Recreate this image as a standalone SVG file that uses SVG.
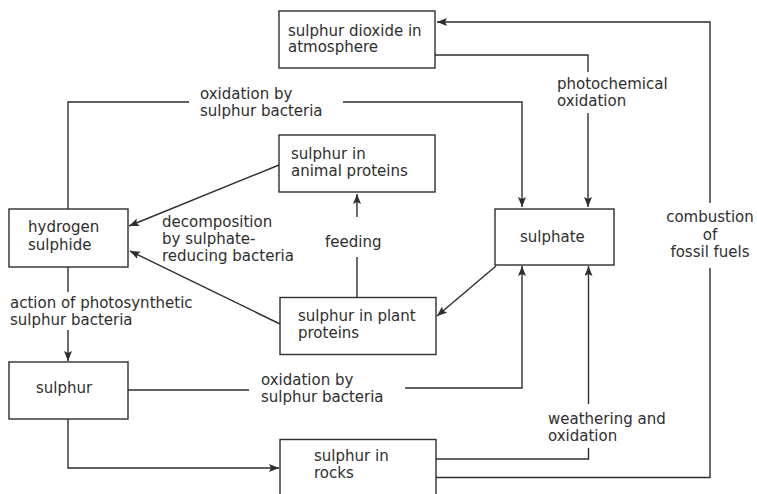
<svg xmlns="http://www.w3.org/2000/svg" width="757" height="494" viewBox="0 0 757 494">
<style>
.box{fill:#fff;stroke:#2e2e2e;stroke-width:1.4}
.ln{fill:none;stroke:#2e2e2e;stroke-width:1.4}
.ar{marker-end:url(#ah)}
text{font-family:"DejaVu Sans","Liberation Sans",sans-serif;font-size:15px;fill:#2e2e2e}
.c{text-anchor:middle}
</style>
<defs>
<marker id="ah" markerUnits="userSpaceOnUse" markerWidth="12" markerHeight="10" refX="10" refY="4" orient="auto">
<path d="M0,0 L10,4 L0,8 L2,4 z" fill="#2e2e2e"/>
</marker>
</defs>
<rect width="757" height="494" fill="#fff"/>
<g id="connectors">
<polyline class="ln ar" points="710,203 710,22 437,22"/>
<polyline class="ln" points="710,268 710,477.5 436,477.5"/>
<polyline class="ln" points="435,55 588,55 588,72"/>
<polyline class="ln ar" points="588,113 588,207"/>
<polyline class="ln" points="68,209 68,102 189,102"/>
<polyline class="ln ar" points="343,102 522,102 522,207"/>
<line class="ln ar" x1="279" y1="165" x2="129" y2="226"/>
<line class="ln ar" x1="280" y1="324" x2="130" y2="251"/>
<line class="ln" x1="357" y1="297" x2="357" y2="257"/>
<line class="ln ar" x1="357" y1="217" x2="357" y2="194"/>
<line class="ln ar" x1="496" y1="266" x2="437" y2="316"/>
<line class="ln" x1="68" y1="267" x2="68" y2="292"/>
<line class="ln ar" x1="68" y1="330" x2="68" y2="361"/>
<line class="ln" x1="128" y1="390" x2="249" y2="390"/>
<polyline class="ln ar" points="405,388 522,388 522,266"/>
<polyline class="ln ar" points="68,419 68,468 279,468"/>
<polyline class="ln" points="436,459 588.5,459 588.5,448"/>
<line class="ln ar" x1="588.5" y1="404" x2="588.5" y2="266"/>
<text x="200" y="98.5">oxidation by</text>
<text x="200" y="115.5">sulphur bacteria</text>
<text x="557" y="89">photochemical</text>
<text x="557" y="106">oxidation</text>
<text class="c" x="710" y="222">combustion</text>
<text class="c" x="710" y="239.5">of</text>
<text class="c" x="710" y="257">fossil fuels</text>
<text x="162" y="227">decomposition</text>
<text x="162" y="244">by sulphate-</text>
<text x="162" y="261">reducing bacteria</text>
<text x="325" y="246.5">feeding</text>
<text x="10" y="307.5">action of photosynthetic</text>
<text x="10" y="324.5">sulphur bacteria</text>
<text x="261" y="385">oxidation by</text>
<text x="261" y="402">sulphur bacteria</text>
<text x="548" y="423.5">weathering and</text>
<text x="548" y="441">oxidation</text>
</g>
<g id="so2">
<rect class="box" x="279" y="11" width="156" height="57"/>
<text x="288" y="35.5">sulphur dioxide in</text>
<text x="288" y="52">atmosphere</text>
</g>
<g id="animal">
<rect class="box" x="279" y="135" width="156" height="57"/>
<text x="291" y="158.5">sulphur in</text>
<text x="291" y="176">animal proteins</text>
</g>
<g id="h2s">
<rect class="box" x="9" y="209" width="119" height="58"/>
<text x="28" y="232">hydrogen</text>
<text x="28" y="249.5">sulphide</text>
</g>
<g id="sulphate">
<rect class="box" x="495" y="209" width="119" height="56"/>
<text x="520" y="242">sulphate</text>
</g>
<g id="plant">
<rect class="box" x="280" y="297.5" width="156" height="57"/>
<text x="298" y="321">sulphur in plant</text>
<text x="298" y="337.5">proteins</text>
</g>
<g id="sulphur">
<rect class="box" x="9" y="362" width="119" height="57"/>
<text x="36" y="393">sulphur</text>
</g>
<g id="rocks">
<rect class="box" x="280" y="439.5" width="156" height="60"/>
<text x="314" y="460.5">sulphur in</text>
<text x="314" y="478">rocks</text>
</g>
</svg>
